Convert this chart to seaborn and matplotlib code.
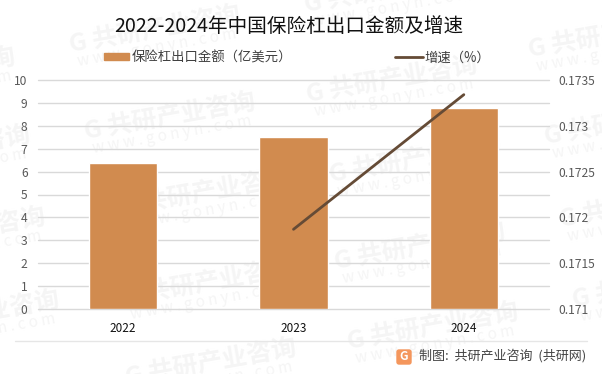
import matplotlib
matplotlib.use("Agg")
import matplotlib.pyplot as plt
from matplotlib.lines import Line2D
from matplotlib.patches import FancyBboxPatch, Rectangle
from matplotlib.transforms import IdentityTransform
import pandas as pd
import seaborn as sns

anos = ["2022", "2023", "2024"]
valores = [6.37, 7.5, 8.78]
anos_linha = ["2023", "2024"]
crescimento = [0.17187, 0.17334]
ticks_dir = [0.171, 0.1715, 0.172, 0.1725, 0.173, 0.1735]
ticks_dir_txt = ["0.171", "0.1715", "0.172", "0.1725", "0.173", "0.1735"]

# posicoes das marcas d'agua em pixels (centro do texto)
marcas = [(155, 30), (170, 117), (205, 193), (208, 283), (211, 363),
          (390, -10), (392, 80), (415, 160), (420, 247), (433, 327),
          (614, 35), (630, 122), (645, 205), (658, 285),
          (-70, 72), (-55, 150), (-40, 232), (-26, 315)]

sns.set_theme(style="white")
plt.rcParams["font.family"] = ["Noto Sans CJK SC", "DejaVu Sans"]

W, H = 602, 374
COR_BARRA = "#d18b4f"
COR_LINHA = "#654b36"
fig = plt.figure(figsize=(W / 100, H / 100), dpi=100)

# marca d'agua por baixo de tudo
for x, y in marcas:
    fig.text(x / W, 1 - y / H, "G 共研产业咨询", color="#f5f5f5", fontsize=18, fontweight="bold",
             rotation=10, ha="center", va="center", zorder=0)
    fig.text((x + 2) / W, 1 - (y + 18) / H, "w w w . g o n y n . c o m", color="#f5f5f5", fontsize=11,
             rotation=10, ha="center", va="center", zorder=0)

ax = fig.add_axes([38 / W, 1 - 309 / H, (549 - 38) / W, (309 - 80) / H], zorder=1)
ax.patch.set_alpha(0)
df = pd.DataFrame({"ano": anos, "valor": valores})
sns.barplot(data=df, x="ano", y="valor", color=COR_BARRA, saturation=1, width=0.4, ax=ax, zorder=2)
ax.set_ylim(0, 10)
ax.set_yticks(range(0, 11))
ax.set_xlabel("")
ax.set_ylabel("")
ax.grid(axis="y", color="#d9d9d9", lw=1, clip_on=False)
ax.set_axisbelow(True)
sns.despine(ax=ax, left=True, right=True, top=True, bottom=True)
ax.tick_params(axis="x", length=0, pad=9, labelsize=8.5, labelcolor="#111111")
ax.tick_params(axis="y", length=0, pad=7.5, labelsize=8.7, labelcolor="#595959")

ax2 = ax.twinx()
ax2.set_zorder(2)
ax2.patch.set_alpha(0)
df2 = pd.DataFrame({"pos": [anos.index(a) for a in anos_linha], "cresc": crescimento})
sns.lineplot(data=df2, x="pos", y="cresc", color=COR_LINHA, lw=2, ax=ax2, zorder=3)
ax2.lines[0].set_solid_capstyle("round")
ax2.set_xlim(-0.5, 2.5)
ax2.set_ylim(0.171, 0.1735)
ax2.set_yticks(ticks_dir)
ax2.set_yticklabels(ticks_dir_txt)
ax2.set_xlabel("")
ax2.set_ylabel("")
ax2.grid(False)
sns.despine(ax=ax2, left=True, right=True, top=True, bottom=True)
ax2.tick_params(axis="y", length=0, pad=7, labelsize=8.7, labelcolor="#595959")

fig.text(289 / W, 1 - 27 / H, "2022-2024年中国保险杠出口金额及增速", fontsize=14.1, color="#111111",
         ha="center", va="center", zorder=3)

# legenda
fig.add_artist(Rectangle((104, H - 60), 25, 7, transform=IdentityTransform(), color=COR_BARRA, zorder=3))
fig.text(132 / W, 1 - 58 / H, "保险杠出口金额（亿美元）", fontsize=9.6, color="#404040", va="center", zorder=3)
fig.add_artist(Line2D([395 / W, 423 / W], [1 - 56.5 / H] * 2, color=COR_LINHA, lw=2, solid_capstyle="round", zorder=3))
fig.text(424 / W, 1 - 57.5 / H, "增速（%）", fontsize=9.6, color="#404040", va="center", zorder=3)

# rodape
fig.add_artist(Line2D([15 / W, 587 / W], [1 - 341 / H] * 2, color="#e6e6e6", lw=1, zorder=3))
fig.add_artist(FancyBboxPatch((397, H - 364), 14, 14, boxstyle="round,pad=0,rounding_size=2",
                              transform=IdentityTransform(), color="#f4965c", zorder=3))
fig.text(404 / W, 1 - 357 / H, "G", color="white", fontsize=8.5, fontweight="bold", ha="center", va="center", zorder=4)
fig.text(419 / W, 1 - 356 / H, "制图:  共研产业咨询  (共研网)", fontsize=9.4, color="#444444", va="center", zorder=3)

fig.savefig("out.png", dpi=100)
